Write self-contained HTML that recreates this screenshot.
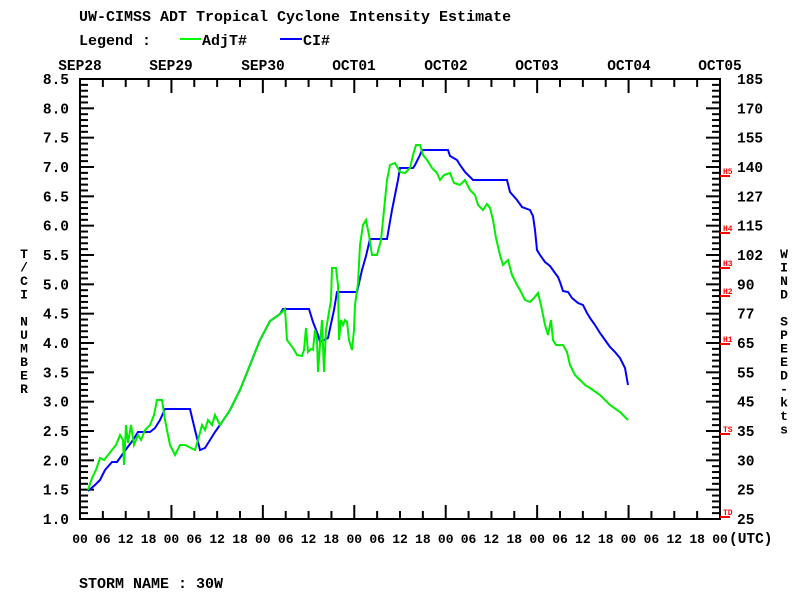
<!DOCTYPE html>
<html><head><meta charset="utf-8"><style>
body{margin:0;background:#fff}
svg{display:block}
text{font-family:"Liberation Mono",monospace;font-weight:bold;font-size:13px;fill:#000}
.big{font-size:15px}
.date{font-size:14.5px}
</style></head><body>
<svg width="800" height="600" viewBox="0 0 800 600" xmlns="http://www.w3.org/2000/svg">
<text class="big" x="79" y="21">UW-CIMSS ADT Tropical Cyclone Intensity Estimate</text>
<text class="big" x="79" y="45">Legend :</text>
<line x1="180" y1="39" x2="201" y2="39" stroke="#00ff00" stroke-width="2"/>
<text class="big" x="202" y="45">AdjT#</text>
<line x1="280" y1="39" x2="302" y2="39" stroke="#0000ff" stroke-width="2"/>
<text class="big" x="303" y="45">CI#</text>
<g text-anchor="middle" class="date">
<text class="date" x="80" y="70">SEP28</text><text class="date" x="171" y="70">SEP29</text><text class="date" x="263" y="70">SEP30</text><text class="date" x="354" y="70">OCT01</text><text class="date" x="446" y="70">OCT02</text><text class="date" x="537" y="70">OCT03</text><text class="date" x="629" y="70">OCT04</text><text class="date" x="720" y="70">OCT05</text>
</g>
<g id="ax" stroke="#000" stroke-width="2" fill="none">
<rect x="80" y="79" width="640" height="440"/>
</g>
<g id="ticks" stroke="#000" stroke-width="2"></g>
<g id="ylab" text-anchor="end"></g>
<g id="rlab"></g>
<g id="xlab" text-anchor="middle"></g>
<text x="729" y="543" class="date">(UTC)</text>
<g id="red" fill="red" stroke="red"></g>
<g id="vl"></g>
<polyline fill="none" stroke="#0000ff" stroke-width="2" points="88,491 95,485 100,480 105,470 112,462 117,462 122,455 127,448 133,440 138,432 150,432 155,428 160,420 165,409 190,409 195,430 200,450 205,448 210,440 215,432 220,425 230,410 240,390 250,365 260,340 270,321 280,314 283,309 309,309 313,322 318,335 320,342 328,338 334,310 337,292 357,292 362,270 366,256 370,239 387,239 392,210 395,195 398,180 400,168 413,168 415,165 420,155 422,150 448,150 450,156 457,160 460,165 465,172 473,180 507,180 510,192 517,200 522,207 530,210 533,216 535,230 537,250 540,255 545,262 550,266 555,273 558,277 560,282 563,291 568,292 572,298 578,303 583,305 587,313 590,318 595,325 600,333 605,340 610,347 615,352 620,358 625,368 628,385"/>
<polyline fill="none" stroke="#00ee00" stroke-width="2" points="88,490 92,478 96,470 100,458 104,460 108,455 112,450 116,445 120,435 123,440 124,465 126,425 128,443 131,425 134,445 138,435 141,440 145,430 150,425 154,415 157,400 162,400 165,420 170,445 175,455 180,445 185,445 195,450 198,440 202,425 205,430 208,420 212,425 215,415 220,425 230,410 240,390 250,365 260,340 270,321 280,314 285,309 287,340 293,348 297,355 302,356 304,350 306,328 308,352 311,349 313,350 315,330 317,340 318,372 320,345 322,320 324,372 326,330 328,318 331,300 332,268 336,268 338,285 339,340 341,320 343,325 345,320 347,322 349,340 352,350 354,330 355,305 358,283 360,245 363,225 366,220 369,235 372,255 377,255 381,240 384,210 387,180 390,165 395,163 400,172 405,173 410,168 413,155 416,145 420,145 423,155 427,160 432,168 437,173 440,180 444,175 450,173 454,183 460,185 465,180 470,190 475,195 478,205 483,210 487,204 490,208 493,220 496,238 500,255 503,265 508,260 512,275 517,285 520,290 525,300 530,302 534,298 538,293 541,305 545,325 548,335 551,320 553,340 556,345 563,345 567,352 570,365 575,375 580,380 585,385 590,388 600,395 610,405 620,412 628,420"/>
<text class="big" x="79" y="588">STORM NAME : 30W</text>
<script>
var ns="http://www.w3.org/2000/svg";
function el(p,t,a,txt){var e=document.createElementNS(ns,t);for(var k in a)e.setAttribute(k,a[k]);if(txt)e.textContent=txt;document.getElementById(p).appendChild(e);}
var s=5.86667;
for(var i=0;i<=75;i++){var y=519-i*s;var L=(i%5==0)?14:8;
 el("ticks","line",{x1:80,y1:y,x2:80+L,y2:y});el("ticks","line",{x1:720,y1:y,x2:720-L,y2:y});}
var lv=["1.0","1.5","2.0","2.5","3.0","3.5","4.0","4.5","5.0","5.5","6.0","6.5","7.0","7.5","8.0","8.5"];
var rv=["25","25","30","35","45","55","65","77","90","102","115","127","140","155","170","185"];
for(var i=0;i<16;i++){var y=519-i*29.333+5;el("ylab","text",{x:69,y:y,"class":"date"},lv[i]);el("rlab","text",{x:737,y:y,"class":"date"},rv[i]);}
var hl=["00","06","12","18"];
for(var i=0;i<=28;i++){var x=80+i*22.857;var L=(i%4==0)?14:8;
 el("ticks","line",{x1:x,y1:79,x2:x,y2:79+L});el("ticks","line",{x1:x,y1:519,x2:x,y2:519-L});
 el("xlab","text",{x:x,y:543},hl[i%4]);}
var rd=[["H5",176],["H4",233],["H3",268],["H2",296],["H1",344],["TS",434],["TD",517]];
rd.forEach(function(r){el("red","line",{x1:720,y1:r[1],x2:730,y2:r[1],"stroke-width":2});
 el("red","text",{x:723,y:r[1]-2,style:"font-size:8px;fill:red;stroke:none"},r[0]);});
var lt="T/CI NUMBER".split("");lt.forEach(function(c,i){el("vl","text",{x:24,y:258+i*13.5,"text-anchor":"middle"},c);});
var rt="WIND SPEED-kts".split("");rt.forEach(function(c,i){el("vl","text",{x:784,y:258+i*13.5,"text-anchor":"middle"},c);});
</script>
</svg>
</body></html>
